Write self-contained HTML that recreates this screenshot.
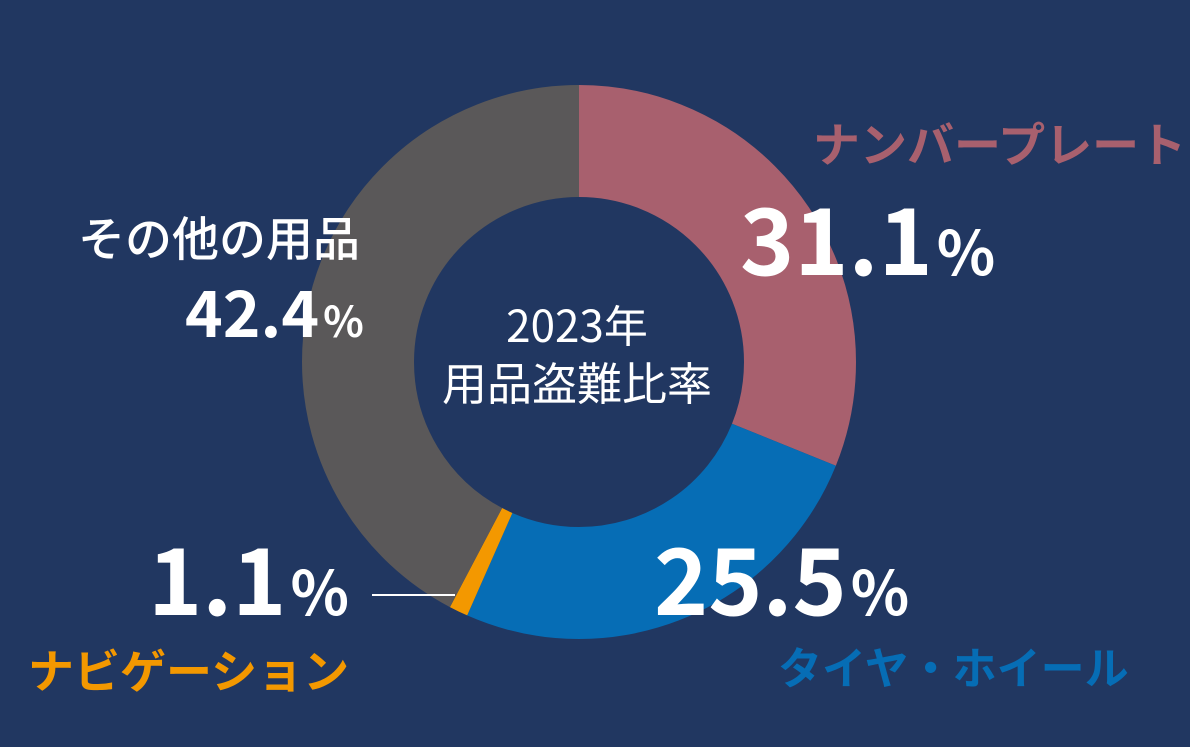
<!DOCTYPE html>
<html><head><meta charset="utf-8"><style>
html,body{margin:0;padding:0;}
body{width:1190px;height:747px;background:#213761;position:relative;overflow:hidden;font-family:"Liberation Sans","Noto Sans CJK JP",sans-serif;}
.t{position:absolute;white-space:nowrap;line-height:1;font-weight:bold;font-family:"Noto Sans CJK JP","Liberation Sans",sans-serif;}
.p{font-size:0.66em;margin-left:4px;}
</style></head><body>
<svg width="1190" height="747" style="position:absolute;left:0;top:0">
<g transform="rotate(-90 579 362)" fill="none" stroke-width="112">
<circle cx="579" cy="362" r="221" stroke="#a8606e" stroke-dasharray="431.85 1388.6" stroke-dashoffset="0"/>
<circle cx="579" cy="362" r="221" stroke="#066db5" stroke-dasharray="354.09 1388.6" stroke-dashoffset="-431.85"/>
<circle cx="579" cy="362" r="221" stroke="#f39800" stroke-dasharray="15.27 1388.6" stroke-dashoffset="-785.94"/>
<circle cx="579" cy="362" r="221" stroke="#5a5859" stroke-dasharray="588.77 1388.6" stroke-dashoffset="-801.21"/>
</g>
<line x1="372" y1="595" x2="455" y2="595" stroke="#fff" stroke-width="2"/>
<text x="577" y="342" fill="#fff" font-size="44" text-anchor="middle" font-family="Noto Sans CJK JP, sans-serif">2023年</text>
<text x="577" y="400" fill="#fff" font-size="45" text-anchor="middle" font-family="Noto Sans CJK JP, sans-serif">用品盗難比率</text>
</svg>
<div class="t" style="left:813px;top:118px;font-size:47px;color:#a8606e">ナンバープレート</div>
<div class="t" style="left:740px;top:190px;font-size:92px;color:#fff">31.1<span class="p">%</span></div>
<div class="t" style="left:78px;top:212px;font-size:47px;color:#fff;font-weight:500">その他の用品</div>
<div class="t" style="left:185px;top:278px;font-size:64px;color:#fff">42.4<span class="p">%</span></div>
<div class="t" style="left:148px;top:530px;font-size:92px;color:#fff">1.1<span class="p">%</span></div>
<div class="t" style="left:28px;top:646px;font-size:46px;color:#f39800">ナビゲーション</div>
<div class="t" style="left:654px;top:530px;font-size:92px;color:#fff">25.5<span class="p">%</span></div>
<div class="t" style="left:778px;top:643px;font-size:44px;color:#066db5">タイヤ・ホイール</div>
</body></html>
